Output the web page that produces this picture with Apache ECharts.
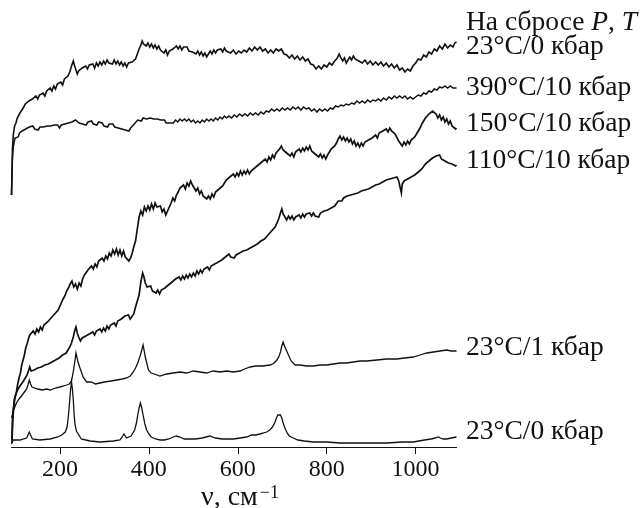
<!DOCTYPE html>
<html><head><meta charset="utf-8">
<script src="https://cdn.jsdelivr.net/npm/echarts@6/dist/echarts.min.js"></script>
<style>html,body{margin:0;padding:0;background:#fff}#c{width:642px;height:508px}</style>
</head><body><div id="c"></div>
<script>
// Raman shift, cm^-1 (x) vs intensity in arbitrary units (y)
const xTicks = [200, 400, 600, 800, 1000];

const release23_0 = [[91,252],[92,272],[93,297],[95,312],[98,321],[101,324],[104,329],[107,328],[110,334],[113,333],[116,338],[119,337],[122,343],[126,341],[130,346],[134,344],[138,348],[142,347],[146,351],[150,348],[154,352],[158,350],[162,354],[166,351],[170,356],[174,354],[178,359],[182,356],[186,361],[190,358],[194,363],[198,361],[202,365],[206,362],[210,368],[214,366],[218,371],[222,375],[226,381],[230,386],[233,381],[236,377],[239,373],[242,376],[246,374],[250,379],[254,377],[258,381],[262,378],[266,382],[270,380],[274,383],[278,379],[282,384],[286,381],[290,385],[294,382],[298,386],[302,383],[306,387],[310,384],[314,386],[318,383],[322,387],[326,383],[330,386],[334,382],[338,385],[342,381],[346,384],[350,380],[354,384],[358,382],[362,385],[366,383],[370,388],[374,393],[378,398],[382,402],[385,406],[388,403],[391,405],[394,401],[398,404],[402,400],[406,403],[410,399],[414,402],[418,398],[422,401],[426,397],[430,399],[434,394],[438,397],[442,392],[446,396],[450,394],[454,398],[458,396],[462,401],[466,398],[470,401],[474,397],[478,400],[482,398],[486,400],[490,396],[494,398],[498,395],[502,397],[506,393],[510,396],[514,392],[518,395],[522,391],[526,394],[530,390],[534,393],[538,396],[542,393],[546,397],[550,394],[554,397],[558,395],[562,398],[566,395],[570,399],[574,396],[578,398],[584,394],[590,397],[596,393],[602,396],[608,394],[614,397],[620,395],[626,399],[632,396],[638,400],[644,397],[650,400],[656,396],[662,398],[668,394],[674,397],[680,394],[686,398],[692,396],[698,398],[704,393],[710,392],[716,389],[722,392],[728,388],[734,391],[740,387],[746,390],[752,386],[758,388],[764,383],[770,382],[776,378],[782,381],[788,378],[794,382],[800,380],[806,384],[812,382],[818,386],[824,389],[828,393],[832,389],[836,386],[840,389],[844,384],[848,387],[852,390],[856,387],[860,391],[864,388],[868,390],[872,386],[876,388],[880,384],[886,387],[892,383],[898,386],[904,382],[910,385],[916,382],[922,385],[928,381],[934,384],[940,380],[946,383],[952,379],[958,382],[964,377],[970,379],[976,375],[982,378],[988,376],[994,381],[1000,384],[1006,388],[1012,387],[1018,392],[1024,390],[1030,395],[1036,393],[1042,398],[1048,396],[1054,401],[1060,398],[1066,403],[1072,399],[1078,402],[1084,400],[1088,404],[1092,405]];

const t390_10 = [[91,252],[93,287],[95,300],[97,305],[99,309],[101,307],[103,311],[106,310],[109,314],[112,312],[115,316],[119,314],[123,318],[127,316],[131,320],[135,318],[139,321],[143,318],[147,320],[151,317],[155,320],[159,318],[163,320],[167,318],[171,321],[175,319],[179,321],[183,319],[187,322],[191,320],[195,322],[199,319],[203,322],[207,320],[211,323],[215,321],[219,324],[223,322],[227,325],[231,324],[235,327],[239,326],[243,324],[247,326],[251,323],[255,325],[259,322],[263,325],[267,323],[271,326],[275,323],[279,325],[283,322],[287,325],[291,323],[295,324],[299,321],[303,323],[307,320],[311,323],[315,321],[319,323],[323,320],[327,322],[331,319],[335,321],[339,318],[343,320],[347,317],[351,318],[355,316],[359,319],[363,320],[367,323],[371,325],[375,327],[379,328],[383,326],[387,329],[391,327],[395,328],[399,326],[403,329],[407,327],[411,328],[415,326],[419,328],[423,326],[427,327],[431,325],[435,327],[439,324],[443,326],[447,324],[451,326],[455,324],[460,327],[465,325],[470,328],[475,326],[480,328],[485,326],[490,328],[495,325],[500,327],[505,324],[510,326],[515,324],[520,327],[525,325],[530,328],[535,326],[540,328],[545,326],[550,329],[555,327],[560,330],[565,328],[570,331],[575,329],[580,331],[586,329],[592,332],[598,330],[604,333],[610,331],[616,333],[622,331],[628,334],[634,332],[640,334],[646,332],[652,335],[658,333],[664,336],[670,335],[676,338],[682,336],[688,338],[694,336],[700,339],[706,337],[712,339],[718,337],[724,340],[730,338],[736,340],[742,337],[748,340],[754,338],[760,339],[766,336],[772,338],[778,335],[784,338],[790,336],[796,338],[802,336],[808,339],[814,338],[820,341],[826,340],[832,342],[838,341],[844,343],[850,342],[856,344],[862,343],[868,346],[874,344],[880,346],[886,344],[892,347],[898,345],[904,347],[910,346],[916,348],[922,346],[928,349],[934,347],[940,350],[946,348],[952,351],[958,349],[964,351],[970,349],[976,351],[982,348],[988,350],[994,348],[1000,350],[1006,352],[1012,351],[1018,354],[1024,353],[1030,356],[1036,355],[1042,358],[1048,357],[1054,360],[1060,359],[1066,361],[1072,359],[1078,361],[1084,359],[1088,360],[1092,359]];

const t150_10 = [[92,7],[93,27],[95,38],[97,44],[99,49],[102,55],[105,63],[108,69],[111,74],[114,82],[117,87],[120,92],[123,99],[126,103],[129,108],[132,112],[136,110],[140,116],[144,113],[148,118],[152,115],[156,120],[160,117],[164,122],[168,120],[172,125],[176,123],[180,129],[184,127],[188,133],[192,131],[196,137],[200,139],[204,145],[207,148],[211,151],[215,156],[219,159],[223,163],[227,166],[231,160],[235,163],[239,158],[243,164],[247,161],[251,168],[255,172],[259,170],[263,177],[267,175],[271,181],[275,178],[279,183],[283,180],[287,186],[291,184],[295,189],[299,186],[303,191],[307,188],[311,194],[315,191],[319,197],[323,193],[327,198],[331,192],[335,197],[339,191],[343,196],[347,190],[351,192],[355,186],[359,189],[362,193],[366,200],[370,206],[374,218],[378,230],[382,236],[386,232],[390,240],[394,236],[398,241],[402,237],[406,243],[410,238],[414,244],[418,240],[422,238],[426,241],[430,235],[434,238],[438,232],[442,236],[446,240],[450,244],[454,249],[458,246],[462,252],[466,255],[470,259],[474,257],[478,262],[482,258],[486,264],[490,261],[494,266],[498,262],[502,260],[506,256],[510,259],[514,253],[518,256],[522,251],[526,253],[530,248],[534,251],[538,248],[542,253],[546,250],[550,255],[554,253],[558,258],[562,256],[566,261],[570,263],[574,267],[578,265],[582,270],[586,268],[590,273],[594,270],[598,274],[602,271],[606,276],[610,272],[614,276],[618,273],[622,277],[626,273],[630,276],[634,274],[638,279],[642,277],[646,282],[650,280],[654,285],[658,283],[662,288],[666,285],[670,290],[674,287],[678,292],[682,289],[686,294],[690,293],[694,298],[698,301],[702,297],[706,299],[710,294],[714,296],[718,291],[722,294],[726,290],[730,295],[734,293],[738,298],[742,295],[746,299],[750,296],[754,300],[758,297],[762,301],[766,296],[770,298],[774,293],[778,295],[782,290],[786,293],[790,289],[794,292],[798,288],[802,292],[806,294],[810,298],[814,296],[818,301],[822,304],[826,308],[830,311],[834,307],[838,310],[842,306],[846,309],[850,305],[854,308],[858,303],[862,306],[866,301],[870,304],[874,300],[878,304],[882,301],[886,305],[890,303],[894,307],[898,305],[902,309],[906,307],[910,312],[914,309],[918,314],[922,312],[926,316],[930,314],[934,318],[938,315],[942,319],[946,316],[950,318],[954,313],[958,311],[962,306],[966,304],[970,301],[974,305],[978,302],[982,306],[986,303],[990,307],[994,305],[998,310],[1002,312],[1006,316],[1010,319],[1014,323],[1018,325],[1022,329],[1026,328],[1030,333],[1034,331],[1038,336],[1042,334],[1046,333],[1050,329],[1054,332],[1058,327],[1062,330],[1066,325],[1070,328],[1074,323],[1078,326],[1082,321],[1086,323],[1090,318],[1092,319]];

const t110_10 = [[92,4],[93,16],[94,27],[96,40],[97,47],[100,52],[103,55],[106,58],[110,61],[114,63],[118,66],[122,68],[126,72],[129,76],[132,80],[135,76],[138,74],[142,77],[146,75],[150,79],[154,77],[158,80],[162,78],[166,82],[170,80],[174,83],[178,81],[182,85],[186,83],[190,87],[194,85],[198,89],[202,87],[206,92],[210,90],[214,94],[218,96],[222,100],[226,104],[230,110],[233,116],[236,120],[239,114],[242,110],[246,106],[250,109],[254,107],[258,111],[262,109],[266,113],[270,111],[274,115],[278,112],[282,116],[286,114],[290,118],[294,115],[298,119],[302,116],[306,121],[310,118],[314,122],[318,120],[322,124],[326,121],[330,126],[334,124],[338,128],[342,126],[346,131],[350,129],[354,132],[358,128],[362,127],[366,133],[370,140],[374,146],[378,152],[382,165],[386,174],[389,170],[392,164],[396,160],[400,158],[404,161],[408,156],[412,158],[416,154],[420,157],[424,153],[428,157],[432,155],[436,159],[440,157],[444,162],[448,160],[452,165],[456,163],[460,168],[464,166],[468,170],[472,167],[476,171],[480,168],[484,172],[488,169],[492,173],[496,170],[500,174],[504,171],[508,176],[512,173],[516,177],[520,174],[524,178],[528,176],[532,180],[536,177],[540,181],[544,179],[548,183],[552,181],[556,185],[560,183],[564,187],[568,186],[572,190],[576,189],[580,193],[584,190],[588,192],[592,189],[596,192],[600,190],[604,194],[608,192],[612,196],[616,194],[620,197],[624,195],[628,199],[632,197],[636,201],[640,199],[644,203],[648,201],[652,206],[656,204],[660,208],[664,207],[668,212],[672,211],[676,216],[680,215],[684,220],[688,222],[692,228],[696,234],[699,238],[702,233],[706,230],[710,227],[714,231],[718,228],[722,231],[726,227],[730,230],[734,228],[738,232],[742,229],[746,233],[750,230],[754,233],[758,231],[762,234],[766,231],[770,234],[774,231],[778,233],[782,230],[786,234],[790,232],[794,236],[798,234],[802,237],[806,235],[810,239],[814,237],[818,241],[822,243],[826,246],[830,248],[834,246],[838,249],[842,247],[846,251],[850,249],[854,252],[858,250],[862,253],[866,251],[870,254],[874,252],[878,256],[882,254],[886,257],[890,255],[894,258],[898,256],[902,260],[906,258],[910,262],[914,260],[918,263],[922,261],[926,265],[930,263],[934,267],[938,265],[942,268],[946,266],[950,269],[954,267],[958,270],[962,266],[966,264],[968,254],[970,263],[974,266],[978,264],[982,268],[986,266],[990,270],[994,268],[998,272],[1002,271],[1006,275],[1010,274],[1014,278],[1018,279],[1022,283],[1026,282],[1030,286],[1034,285],[1038,289],[1042,287],[1046,291],[1050,289],[1054,292],[1058,288],[1062,290],[1066,286],[1070,288],[1074,284],[1078,286],[1082,283],[1086,285],[1090,281],[1092,282]];

const t23_1 = [[91,29],[96,37],[102,44],[108,48],[115,52],[120,55],[125,58],[128,62],[131,67],[134,63],[137,60],[140,59],[150,58],[160,57],[170,58],[178,57],[190,59],[200,60],[208,61],[215,62],[221,63],[226,66],[231,78],[236,94],[240,86],[245,79],[252,70],[260,65],[270,65],[280,63],[290,64],[300,65],[315,66],[328,67],[340,68],[350,69],[358,71],[365,75],[370,79],[375,84],[381,92],[387,102],[392,90],[399,77],[405,74],[412,73],[425,71],[440,73],[455,74],[470,75],[485,74],[500,76],[515,75],[530,74],[545,76],[560,75],[575,76],[590,75],[605,76],[615,78],[628,80],[640,81],[655,81],[673,82],[682,84],[688,87],[693,91],[696,95],[699,101],[702,105],[705,101],[708,98],[711,95],[714,92],[720,86],[729,82],[740,82],[755,81],[770,81],[785,82],[800,82],[815,83],[830,84],[845,84],[860,85],[875,86],[890,86],[913,87],[935,88],[958,88],[975,89],[995,90],[1010,92],[1025,94],[1040,95],[1055,96],[1070,97],[1080,96],[1092,96]];

const t23_0 = [[91,3],[95,7],[110,7],[125,9],[128,12],[131,15],[134,12],[138,8],[155,7],[178,8],[195,10],[204,12],[212,15],[216,20],[218,27],[220,36],[222,47],[224,58],[226,65],[228,58],[230,47],[232,32],[234,22],[237,16],[241,13],[248,8],[258,7],[268,6],[290,5],[320,6],[335,7],[340,10],[344,13],[347,11],[350,9],[355,10],[360,11],[364,13],[368,17],[372,24],[375,32],[378,39],[381,44],[384,39],[387,32],[391,23],[395,17],[400,13],[405,10],[415,8],[425,7],[435,7],[445,8],[455,10],[462,11],[470,10],[480,8],[492,8],[505,8],[520,9],[537,11],[550,9],[565,8],[578,8],[590,8],[605,9],[620,10],[631,12],[640,12],[650,13],[658,14],[665,15],[672,17],[678,20],[683,24],[687,29],[690,32],[693,34],[696,32],[699,29],[702,24],[706,19],[711,14],[716,11],[725,9],[735,7],[750,6],[770,5],[800,5],[830,4],[865,4],[900,4],[935,4],[970,5],[995,5],[1020,7],[1035,8],[1044,9],[1051,10],[1056,9],[1062,8],[1070,8],[1080,9],[1092,10]];

const curveLabels = ['23°C/0 кбар', '390°C/10 кбар', '150°C/10 кбар', '110°C/10 кбар', '23°C/1 кбар', '23°C/0 кбар'];
const headerLabel = ['На сбросе ', 'P', ', ', 'T'];
const axisTitle = ['ν, см', '−1'];

const chart = echarts.init(document.getElementById('c'), null, {renderer: 'canvas'});
const FONT = '"Liberation Serif", "Times New Roman", serif';
const INK = '#111';
const seriesData = [release23_0, t390_10, t150_10, t110_10, t23_1, t23_0];
const widths = [1.6, 1.5, 1.7, 1.7, 1.3, 1.3];
const labelY = [47, 88, 124, 161, 348, 432];
const LFS = 27.5;

const graphics = curveLabels.map((t, i) => ({
  type: 'text', x: 466, y: labelY[i],
  style: {text: t, font: LFS + 'px ' + FONT, fill: INK, verticalAlign: 'middle'}
}));
graphics.push({
  type: 'text', x: 466, y: 23,
  style: {
    text: '{a|' + headerLabel[0] + '}{i|' + headerLabel[1] + '}{a|' + headerLabel[2] + '}{i|' + headerLabel[3] + '}',
    verticalAlign: 'middle',
    rich: {
      a: {fontFamily: FONT, fontSize: LFS, fill: INK, color: INK},
      i: {fontFamily: FONT, fontSize: LFS, fontStyle: 'italic', fill: INK, color: INK}
    }
  }
});
graphics.push({
  type: 'text', x: 201, y: 498,
  style: {
    text: '{a|' + axisTitle[0] + '}{s|' + axisTitle[1] + '}',
    verticalAlign: 'middle',
    rich: {
      a: {fontFamily: FONT, fontSize: 28, fill: INK, color: INK},
      s: {fontFamily: FONT, fontSize: 18, fill: INK, color: INK, verticalAlign: 'top', padding: [0, 0, 0, 2]}
    }
  }
});

chart.setOption({
  animation: false,
  grid: {left: 11.5, right: 185.5, top: 0, bottom: 61, containLabel: false},
  xAxis: {
    type: 'value', min: 91, max: 1092,
    axisLine: {show: true, lineStyle: {color: INK, width: 1.2}},
    axisTick: {show: true, customValues: xTicks, length: 7, inside: false, lineStyle: {color: INK, width: 1}},
    axisLabel: {customValues: xTicks, margin: 11, fontFamily: FONT, fontSize: 24, color: INK, formatter: v => String(v)},
    splitLine: {show: false}
  },
  yAxis: {type: 'value', min: 0, max: 447, show: false},
  series: seriesData.map((d, i) => ({
    type: 'line', data: d, symbol: 'none', silent: true,
    lineStyle: {color: INK, width: widths[i], join: 'miter'}
  })),
  graphic: graphics
});
</script></body></html>
